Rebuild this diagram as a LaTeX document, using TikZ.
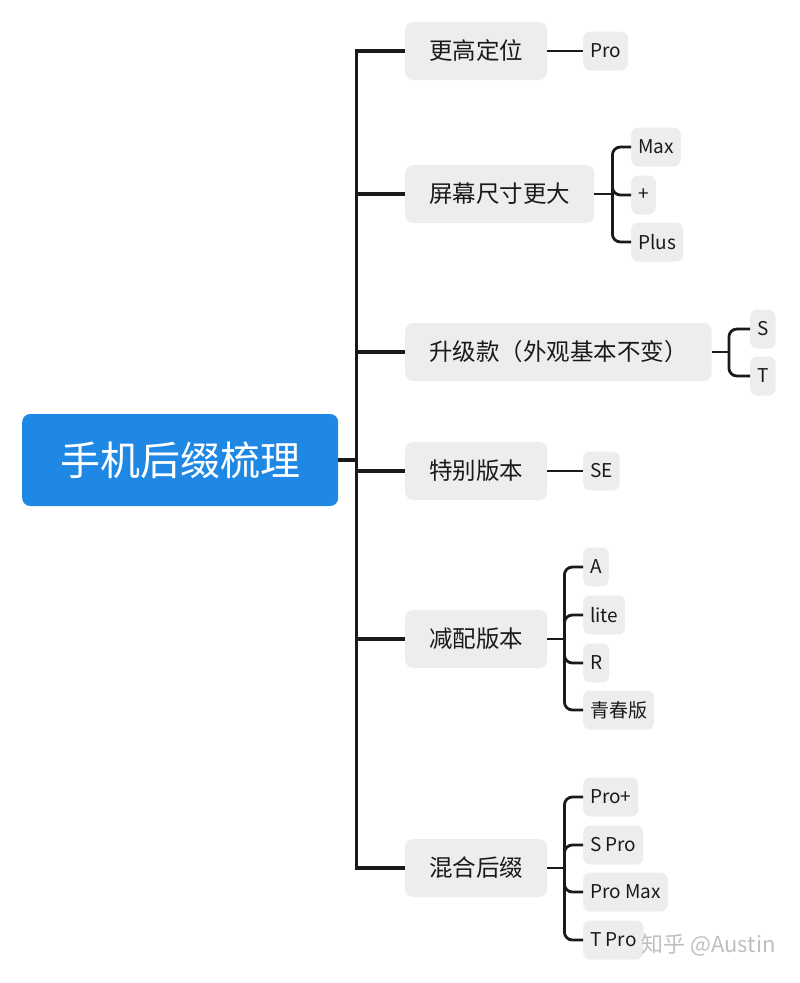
\documentclass[tikz,border=0pt]{standalone}
\usepackage{fontspec}
\setmainfont{Noto Sans CJK SC}
\definecolor{rootblue}{RGB}{31,136,229}
\definecolor{boxgray}{RGB}{237,237,237}
\definecolor{ink}{RGB}{26,26,26}
\begin{document}
\begin{tikzpicture}[x=1pt,y=-1pt,
    rootbox/.style={fill=rootblue,rounded corners=8pt,anchor=west,minimum width=316pt,minimum height=92pt,text=white,font=\fontsize{40}{40}\selectfont},
    topic/.style={fill=boxgray,rounded corners=8pt,anchor=west,inner xsep=24pt,minimum height=58pt,text=ink,font=\fontsize{23.5}{24}\selectfont},
    leaf/.style={fill=boxgray,rounded corners=7pt,anchor=west,inner xsep=7pt,minimum height=39pt,text=ink,font=\fontsize{19}{20}\selectfont},
    link/.style={draw=ink,line width=3.2pt},
    twig/.style={draw=ink,line width=2.8pt,rounded corners=8pt}]
    \useasboundingbox (0,0) rectangle (800,983);
    % root and topics
    \node[rootbox] (root) at (22,460) {手机后缀梳理};
    \node[topic] (b1) at (405,51) {更高定位};
    \node[topic] (b2) at (405,194) {屏幕尺寸更大};
    \node[topic] (b3) at (405,352) {升级款（外观基本不变）};
    \node[topic] (b4) at (405,471) {特别版本};
    \node[topic] (b5) at (405,639) {减配版本};
    \node[topic] (b6) at (405,868) {混合后缀};
    % leaves
    \node[leaf] (pro) at (583,51) {Pro};
    \node[leaf] (max) at (631,147) {Max};
    \node[leaf] (plus) at (631,195) {+};
    \node[leaf] (plusw) at (631,242) {Plus};
    \node[leaf] (s) at (750,329) {S};
    \node[leaf] (t) at (750,376) {T};
    \node[leaf] (se) at (583,471) {SE};
    \node[leaf] (a) at (583,567) {A};
    \node[leaf] (lite) at (583,615) {lite};
    \node[leaf] (r) at (583,663) {R};
    \node[leaf] (qcb) at (583,710) {青春版};
    \node[leaf] (proplus) at (583,797) {Pro+};
    \node[leaf] (spro) at (583,845) {S Pro};
    \node[leaf] (promax) at (583,892) {Pro Max};
    \node[leaf] (tpro) at (583,940) {T Pro};
    % spine
    \draw[link] (root.east) -- ++(18,0) coordinate (hub);
    \foreach \b in {b1,b2,b3,b4,b5,b6}
        \draw[link] (hub) |- (\b.west);
    % twigs
    \draw[twig] (b1.east) -- (pro.west);
    \draw[twig] (b4.east) -- (se.west);
    \draw[twig] (b2.east) -- ++(18,0) coordinate (j2);
    \foreach \l in {max,plus,plusw}
        \draw[twig] (j2) |- (\l.west);
    \draw[twig] (b3.east) -- ++(17,0) coordinate (j3);
    \foreach \l in {s,t}
        \draw[twig] (j3) |- (\l.west);
    \draw[twig] (b5.east) -- ++(17,0) coordinate (j5);
    \foreach \l in {a,lite,r,qcb}
        \draw[twig] (j5) |- (\l.west);
    \draw[twig] (b6.east) -- ++(17,0) coordinate (j6);
    \foreach \l in {proplus,spro,promax,tpro}
        \draw[twig] (j6) |- (\l.west);
    % watermark
    \node[anchor=east,text=black!25,font=\fontsize{22}{22}\selectfont] (mark) at (779,945) {知乎 @Austin};
\end{tikzpicture}
\end{document}
